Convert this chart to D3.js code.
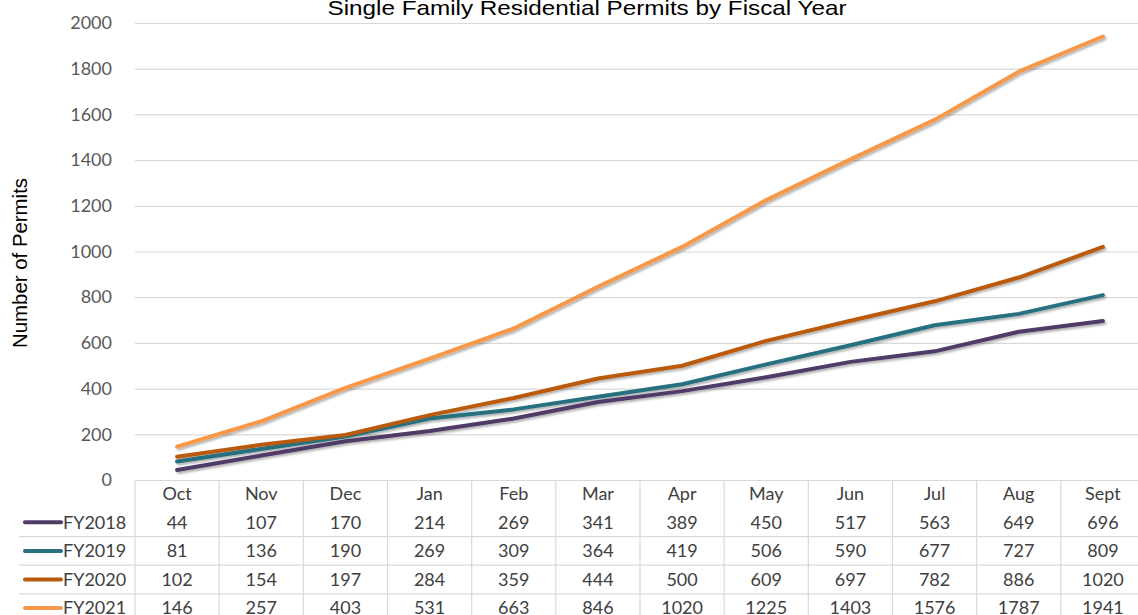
<!DOCTYPE html>
<html>
<head>
<meta charset="utf-8">
<script src="https://cdn.jsdelivr.net/npm/d3@7"></script>
<style>
  html, body { margin: 0; padding: 0; background: #fff; }
  svg { display: block; }
</style>
</head>
<body>
<svg id="chart" width="1138" height="615"></svg>
<script>
// Cumulative single family permits per fiscal-year month
const months = ["Oct", "Nov", "Dec", "Jan", "Feb", "Mar", "Apr", "May", "Jun", "Jul", "Aug", "Sept"];
const seriesNames = ["FY2018", "FY2019", "FY2020", "FY2021"];
const fy2018 = [44, 107, 170, 214, 269, 341, 389, 450, 517, 563, 649, 696];
const fy2019 = [81, 136, 190, 269, 309, 364, 419, 506, 590, 677, 727, 809];
const fy2020 = [102, 154, 197, 284, 359, 444, 500, 609, 697, 782, 886, 1020];
const fy2021 = [146, 257, 403, 531, 663, 846, 1020, 1225, 1403, 1576, 1787, 1941];
const yTicks = [0, 200, 400, 600, 800, 1000, 1200, 1400, 1600, 1800, 2000];
const colors = ["#4f3b66", "#26707f", "#b95a0c", "#f7984a"];

const series = seriesNames.map((name, i) => ({
  name,
  values: [fy2018, fy2019, fy2020, fy2021][i],
  color: colors[i]
}));

const svg = d3.select("#chart");
const tableFont = "Lato, 'Open Sans', sans-serif";

const plotLeft = 135, plotRight = 1145, plotTop = 23, plotBottom = 480;
const x = d3.scaleBand().domain(months).range([plotLeft, plotRight]);
const y = d3.scaleLinear().domain([0, 2000]).range([plotBottom, plotTop]);

// soft shadow under the lines
const defs = svg.append("defs");
const shadow = defs.append("filter").attr("id", "shadow")
  .attr("x", "-5%").attr("y", "-5%").attr("width", "110%").attr("height", "120%");
shadow.append("feDropShadow")
  .attr("dx", 1.5).attr("dy", 2).attr("stdDeviation", 1.2)
  .attr("flood-color", "#000").attr("flood-opacity", 0.3);

// horizontal gridlines
const yAxis = d3.axisLeft(y)
  .tickValues(yTicks)
  .tickFormat(d3.format("d"))
  .tickSize(-(plotRight - plotLeft))
  .tickPadding(23);
const gy = svg.append("g").attr("transform", `translate(${plotLeft},0)`).call(yAxis);
gy.select(".domain").remove();
gy.selectAll(".tick line").attr("stroke", "#d9d9d9").attr("stroke-width", 1.2);
gy.selectAll(".tick text")
  .attr("fill", "#595959")
  .style("font-family", tableFont)
  .style("font-size", "18px");

// title
svg.append("text")
  .attr("x", 587).attr("y", 15)
  .attr("text-anchor", "middle")
  .style("font-family", "'Liberation Sans', Arial, sans-serif")
  .style("font-size", "21px")
  .attr("textLength", 519)
  .attr("lengthAdjust", "spacingAndGlyphs")
  .attr("fill", "#000")
  .text("Single Family Residential Permits by Fiscal Year");

// y-axis title
svg.append("text")
  .attr("transform", "translate(27,263) rotate(-90)")
  .attr("text-anchor", "middle")
  .style("font-family", "'Liberation Sans', Arial, sans-serif")
  .style("font-size", "21px")
  .attr("textLength", 170)
  .attr("lengthAdjust", "spacingAndGlyphs")
  .attr("fill", "#000")
  .text("Number of Permits");

// lines
const line = d3.line()
  .x((d, i) => x(months[i]) + x.bandwidth() / 2)
  .y(d => y(d));

svg.append("g").attr("filter", "url(#shadow)")
  .selectAll("path")
  .data(series)
  .join("path")
  .attr("d", d => line(d.values))
  .attr("fill", "none")
  .attr("stroke", d => d.color)
  .attr("stroke-width", 4)
  .attr("stroke-linejoin", "round")
  .attr("stroke-linecap", "round");

// data table
const tableTop = plotBottom;
const headerH = 28;
const rowH = 28.6;
const tableBottom = 615;
const tableLeft = 19;
const gridColor = "#d9d9d9";

const table = svg.append("g");

// vertical separators
table.selectAll("line.v")
  .data(months)
  .join("line")
  .attr("class", "v")
  .attr("x1", d => x(d)).attr("x2", d => x(d))
  .attr("y1", tableTop).attr("y2", tableBottom)
  .attr("stroke", gridColor).attr("stroke-width", 1.2);

// horizontal separators between rows
table.selectAll("line.h")
  .data(d3.range(1, series.length))
  .join("line")
  .attr("class", "h")
  .attr("x1", tableLeft).attr("x2", plotRight)
  .attr("y1", i => tableTop + headerH + i * rowH)
  .attr("y2", i => tableTop + headerH + i * rowH)
  .attr("stroke", gridColor).attr("stroke-width", 1.2);

// month header
table.selectAll("text.month")
  .data(months)
  .join("text")
  .attr("class", "month")
  .attr("x", d => x(d) + x.bandwidth() / 2)
  .attr("y", tableTop + 14)
  .attr("dy", "0.35em")
  .attr("text-anchor", "middle")
  .attr("fill", "#404040")
  .style("font-family", tableFont)
  .style("font-size", "18px")
  .text(d => d);

// series rows
const rows = table.selectAll("g.row")
  .data(series)
  .join("g")
  .attr("class", "row")
  .attr("transform", (d, i) => `translate(0,${tableTop + headerH + i * rowH + rowH / 2})`);

rows.append("line")
  .attr("x1", 25).attr("x2", 61)
  .attr("y1", 0).attr("y2", 0)
  .attr("stroke", d => d.color)
  .attr("stroke-width", 4)
  .attr("stroke-linecap", "round");

rows.append("text")
  .attr("x", 63).attr("dy", "0.35em")
  .attr("fill", "#404040")
  .style("font-family", tableFont)
  .style("font-size", "18px")
  .text(d => d.name);

rows.selectAll("text.val")
  .data(d => d.values.map((v, i) => ({ v, m: months[i] })))
  .join("text")
  .attr("class", "val")
  .attr("x", d => x(d.m) + x.bandwidth() / 2)
  .attr("dy", "0.35em")
  .attr("text-anchor", "middle")
  .attr("fill", "#404040")
  .style("font-family", tableFont)
  .style("font-size", "18px")
  .text(d => d.v);
</script>
</body>
</html>
